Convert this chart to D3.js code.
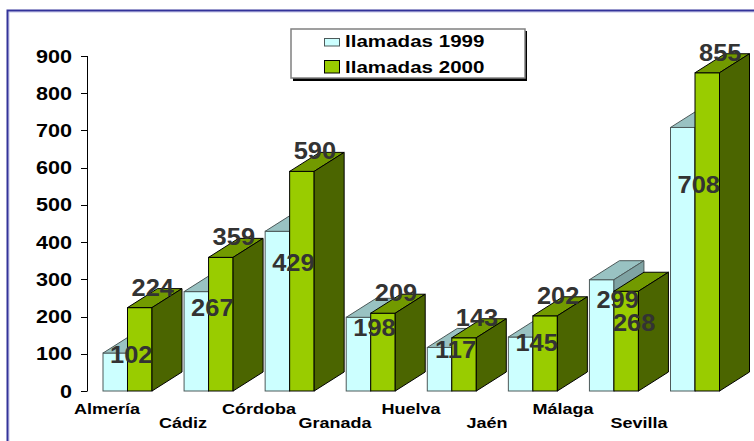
<!DOCTYPE html>
<html>
<head>
<meta charset="utf-8">
<script src="https://cdn.jsdelivr.net/npm/d3@7"></script>
<style>
  body { margin: 0; background: #fff; }
  svg { display: block; }
  text { font-family: "Liberation Sans", Arial, sans-serif; font-weight: bold; }
</style>
</head>
<body>
<svg id="chart" width="754" height="441"></svg>
<script>
// data
const provincias = ["Almería", "Cádiz", "Córdoba", "Granada", "Huelva", "Jaén", "Málaga", "Sevilla"];
const series = ["llamadas 1999", "llamadas 2000"];
const llamadas1999 = [102, 267, 429, 198, 117, 145, 299, 708];
const llamadas2000 = [224, 359, 590, 209, 143, 202, 268, 855];
const yTicks = [0, 100, 200, 300, 400, 500, 600, 700, 800, 900];

const svg = d3.select("#chart");
const depthX = 30, depthY = 19;

// colours: front / top / side
const faces = [
  { front: "#ccffff", top: "#99c2c2", side: "#7fa3a3", stroke: "#4d5a5a" },
  { front: "#99cc00", top: "#729a00", side: "#4b6500", stroke: "#000" }
];

// outer frame (only top and left edges fall inside the picture)
svg.append("path").attr("d", "M9,441V12H754").attr("fill", "none")
  .attr("stroke", "#c4c4ea").attr("stroke-width", 1);
svg.append("path").attr("d", "M7.5,441V10.5H754").attr("fill", "none")
  .attr("stroke", "#33339a").attr("stroke-width", 2);

const y = d3.scaleLinear().domain([0, 900]).range([391, 56]);

const x = d3.scaleBand()
  .domain(provincias)
  .range([103, 719.5])
  .paddingInner(0.3956)
  .paddingOuter(0);

const xs = d3.scaleBand().domain(series).range([0, x.bandwidth()]);

const labelX = d3.scalePoint().domain(provincias).range([107, 639]);

// stretched text helper (the original font renders wider than Arial)
function stretchText(parent, tx, ty, str, size, sx, anchor, fill) {
  const g = parent.append("g").attr("transform", `translate(${tx},${ty}) scale(${sx},1)`);
  g.append("text")
    .attr("text-anchor", anchor)
    .style("font-size", size + "px")
    .attr("fill", fill)
    .text(str);
  return g;
}

// value axis
const axis = svg.append("g");
axis.append("line")
  .attr("x1", 87.5).attr("x2", 87.5)
  .attr("y1", y(900)).attr("y2", y(0))
  .attr("stroke", "#000").attr("stroke-width", 1);
yTicks.forEach(function(t) {
  axis.append("line")
    .attr("x1", 81).attr("x2", 87.5)
    .attr("y1", Math.round(y(t)) + 0.5).attr("y2", Math.round(y(t)) + 0.5)
    .attr("stroke", "#000");
  stretchText(axis, 72, y(t) + 6.5, t, 18, 1.2, "end", "#000");
});

// bars
const rows = provincias.map((p, i) => ({ p: p, vals: [llamadas1999[i], llamadas2000[i]] }));

function bar3d(g, x0, w, v, f) {
  const yt = y(v), yb = y(0);
  g.append("rect")
    .attr("x", x0).attr("y", yt).attr("width", w).attr("height", yb - yt)
    .attr("fill", f.front).attr("stroke", f.stroke).attr("stroke-width", 1);
  g.append("path")
    .attr("d", `M${x0},${yt}L${x0 + depthX},${yt - depthY}L${x0 + w + depthX},${yt - depthY}L${x0 + w},${yt}Z`)
    .attr("fill", f.top).attr("stroke", f.stroke).attr("stroke-width", 1);
  g.append("path")
    .attr("d", `M${x0 + w},${yt}L${x0 + w + depthX},${yt - depthY}L${x0 + w + depthX},${yb - depthY}L${x0 + w},${yb}Z`)
    .attr("fill", f.side).attr("stroke", f.stroke).attr("stroke-width", 1);
}

const barLayer = svg.append("g");
rows.forEach(function(r) {
  const g = barLayer.append("g").attr("class", "grupo");
  series.forEach(function(s, k) {
    bar3d(g, x(r.p) + xs(s), xs.bandwidth(), r.vals[k], faces[k]);
  });
});

// value labels
const labelLayer = svg.append("g");
rows.forEach(function(r) {
  const v0 = r.vals[0], v1 = r.vals[1];
  const c0 = x(r.p) + xs(series[0]) + xs.bandwidth() / 2;
  const c1 = x(r.p) + xs(series[1]) + xs.bandwidth() / 2;
  stretchText(labelLayer, c0 + 16, y(v0 * 0.75), v0, 24, 1.06, "middle", "#333");
  if (v1 >= v0) {
    stretchText(labelLayer, c1 + 13, y(v1) - 12, v1, 24, 1.06, "middle", "#333");
  } else {
    stretchText(labelLayer, c1 + 8, y(v1 * 0.6), v1, 24, 1.06, "middle", "#333");
  }
});

// category labels, staggered on two rows
provincias.forEach(function(p, i) {
  stretchText(svg, labelX(p), i % 2 === 0 ? 414 : 428, p, 15, 1.2, "middle", "#000");
});

// legend
const legend = svg.append("g");
legend.append("rect").attr("x", 293).attr("y", 31).attr("width", 234).attr("height", 50).attr("fill", "#000");
legend.append("rect").attr("x", 291).attr("y", 29).attr("width", 234).attr("height", 49)
  .attr("fill", "#fff").attr("stroke", "#808080").attr("stroke-width", 1.5);
legend.append("rect").attr("x", 324.5).attr("y", 38.5).attr("width", 15).attr("height", 7.5)
  .attr("fill", faces[0].front).attr("stroke", "#4d5a5a");
legend.append("rect").attr("x", 324.5).attr("y", 60.5).attr("width", 15).attr("height", 12.5)
  .attr("fill", faces[1].front).attr("stroke", "#000");
series.forEach(function(s, k) {
  stretchText(legend, 345, k === 0 ? 46.5 : 72.5, s, 17, 1.21, "start", "#000");
});
</script>
</body>
</html>
